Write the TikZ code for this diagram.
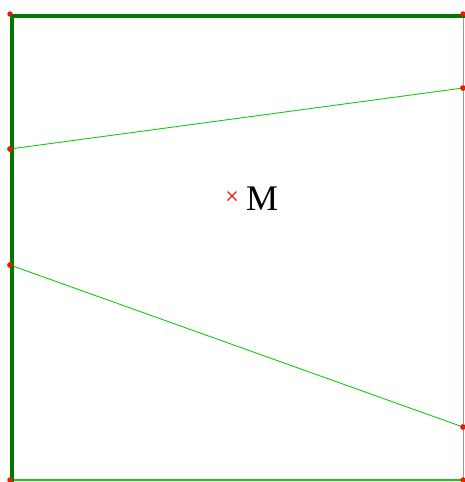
\documentclass[tikz,border=0pt]{standalone}
\usepackage{fontspec}
\setmainfont{Liberation Serif}
\begin{document}
\begin{tikzpicture}[x=1pt,y=-1pt,
  dot/.style={circle,fill=dotred,inner sep=0pt,minimum size=5.5pt},
  thickedge/.style={draw=darkgr,line width=4.5pt},
  thinline/.style={draw=brightgr,line width=0.9pt}]
\definecolor{darkgr}{RGB}{0,120,0}
\definecolor{brightgr}{RGB}{20,200,20}
\definecolor{dotred}{RGB}{230,30,0}
\definecolor{sidegr}{RGB}{130,170,130}
\useasboundingbox (0,0) rectangle (464,482);
\coordinate (TL) at (12,16);
\coordinate (TR) at (463,16);
\coordinate (BL) at (12,480);
\coordinate (BR) at (463,480);
\node[dot] (L1) at (10,149) {};
\node[dot] (L2) at (10,265) {};
\node[dot] (R1) at (463,88) {};
\node[dot] (R2) at (463,427) {};
\draw[draw=sidegr,line width=0.9pt] (TR) -- (BR);
\draw[thinline,line width=1.3pt] (BL) -- (BR);
\draw[thinline] (L1.center) -- (R1.center);
\draw[thinline] (L2.center) -- (R2.center);
\draw[thickedge,line cap=rect] (BL) -- (TL) -- (TR);
\node[dot] (dTL) at (10,14) {};
\node[dot] (dTR) at (463,14) {};
\node[dot] (dBL) at (10,480) {};
\node[dot] (dBR) at (463,480) {};
\node[dot] at (10,149) {};
\node[dot] at (10,265) {};
\node[dot] at (463,88) {};
\node[dot] at (463,427) {};
\coordinate (cross) at (232,196);
\draw[dotred,line width=1.3pt] ([shift={(-4.5,-4.5)}]cross) -- ([shift={(4.5,4.5)}]cross)
  ([shift={(-4.5,4.5)}]cross) -- ([shift={(4.5,-4.5)}]cross);
\node[anchor=base west,font=\fontsize{36}{36}\selectfont,inner sep=0pt] (M) at (246,210) {M};
\end{tikzpicture}
\end{document}
